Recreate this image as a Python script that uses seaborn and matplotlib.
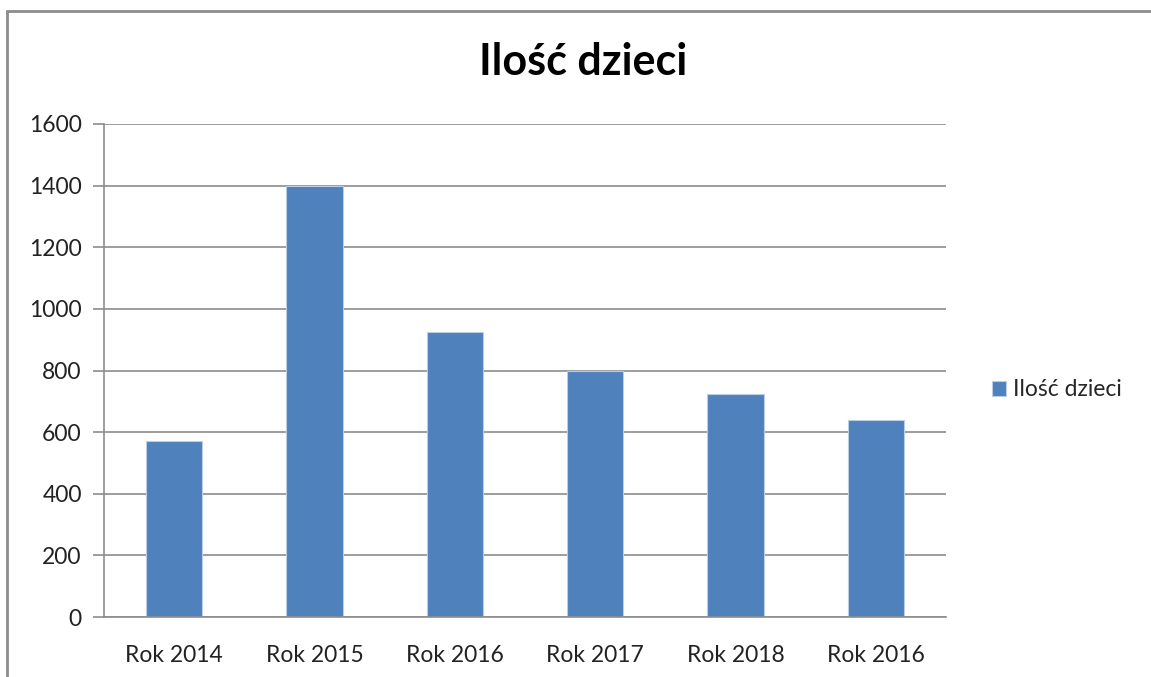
import matplotlib
matplotlib.use('Agg')
import matplotlib.pyplot as plt
import matplotlib.patches as mpatches
import seaborn as sns
import pandas as pd
import numpy as np


# DATA
years = ['Rok 2014', 'Rok 2015', 'Rok 2016', 'Rok 2017', 'Rok 2018', 'Rok 2016']
children = [571, 1400, 926, 799, 725, 639]
series_name = 'Ilość dzieci'
chart_title = 'Ilość dzieci'
y_ticks = [0, 200, 400, 600, 800, 1000, 1200, 1400, 1600]

# one row per bar; position keeps the two "Rok 2016" bars apart
df = pd.DataFrame({'pos': range(len(years)), 'label': years, 'value': children})

sns.set_style('white')
plt.rcParams['font.family'] = ['Lato', 'DejaVu Sans']

BAR_BLUE = '#4F81BD'
GRID_GREY = '#8C8C8C'
FS = 16.5

fig = plt.figure(figsize=(11.51, 6.77), dpi=100)
ax = fig.add_axes([104 / 1151, 1 - 617 / 677, (946 - 104) / 1151, (617 - 124) / 677])

sns.barplot(data=df, x='pos', y='value', ax=ax, color=BAR_BLUE, width=0.4,
            saturation=1, edgecolor='#B9CDE5', linewidth=0.8, label=series_name)

# axes
ax.set_xlim(-0.5, len(years) - 0.5)
ax.set_ylim(0, 1600)
ax.set_yticks(y_ticks)
ax.set_yticklabels([str(t) for t in y_ticks], fontsize=FS, color='#222222')
ax.set_xticks(range(len(years)))
ax.set_xticklabels(years, fontsize=FS, color='#222222')
ax.set_xticks(np.arange(-0.5, len(years), 1.0), minor=True)
ax.tick_params(axis='x', which='major', length=0, pad=20)
ax.tick_params(axis='x', which='minor', length=8, width=1.2, color=GRID_GREY, direction='out')
ax.tick_params(axis='y', length=8, width=1.2, color=GRID_GREY, direction='out', pad=8, left=True)
ax.set_xlabel('')
ax.set_ylabel('')

ax.yaxis.grid(True, color=GRID_GREY, linewidth=1.2)
ax.set_axisbelow(True)
for side in ['top', 'right']:
    ax.spines[side].set_visible(False)
for side in ['left', 'bottom']:
    ax.spines[side].set_color(GRID_GREY)
    ax.spines[side].set_linewidth(1.2)

# title
fig.text(583 / 1151, 1 - 62 / 677, chart_title, ha='center', va='center',
         fontsize=31, fontweight='bold', color='#000000')

# legend on the right
handles, labels = ax.get_legend_handles_labels()
fig.legend(handles[:1], labels[:1], loc='center left', bbox_to_anchor=(971 / 1151, 1 - 390 / 677),
           frameon=False, fontsize=FS, handlelength=0.62, handleheight=0.62, handletextpad=0.3)
if ax.get_legend():
    ax.get_legend().remove()

# outer chart frame (cut off at right and bottom like the screenshot)
frame = mpatches.Rectangle((7 / 1151, -0.05), 1.1, 1 - 11 / 677 + 0.05, transform=fig.transFigure,
                           fill=False, edgecolor='#8C8C8C', linewidth=2)
fig.add_artist(frame)

fig.savefig('out.png', dpi=100)
